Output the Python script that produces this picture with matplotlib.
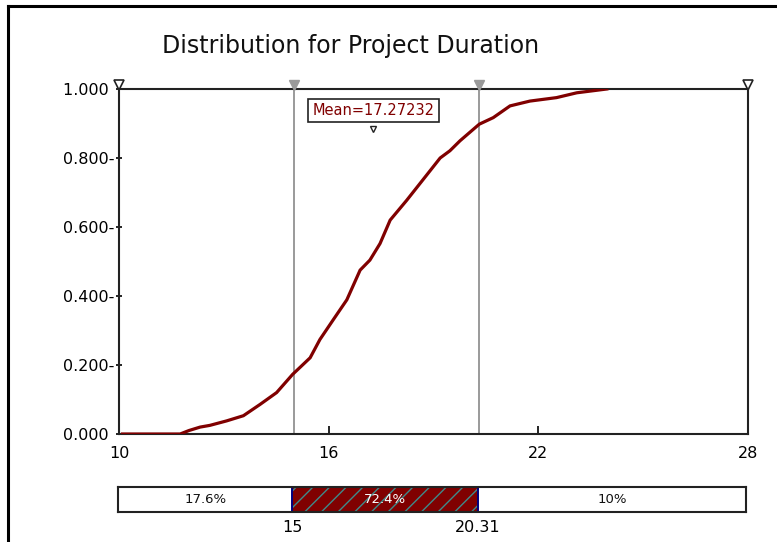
import matplotlib
matplotlib.use("Agg")
import matplotlib.pyplot as plt
import matplotlib.transforms as mtransforms
from matplotlib.lines import Line2D

# cumulative distribution
cdf_x = [10.1, 11.75, 12.0, 12.32, 12.6, 13.08, 13.56, 14.04, 14.51, 14.97, 15.2,
         15.47, 15.75, 16.13, 16.52, 16.9, 17.18, 17.47, 17.76, 18.23, 18.8,
         19.19, 19.47, 19.76, 20.31, 20.71, 21.19, 21.76, 22.52, 23.1, 23.96]
cdf_y = [0.0, 0.0, 0.01, 0.02, 0.025, 0.038, 0.053, 0.086, 0.12, 0.173, 0.195,
         0.221, 0.274, 0.331, 0.389, 0.475, 0.504, 0.552, 0.62, 0.677, 0.75,
         0.80, 0.821, 0.85, 0.898, 0.917, 0.951, 0.965, 0.975, 0.989, 1.0]

mean_value = 17.27232
mean_marker_y = 0.885
slider_lo, slider_hi = 15, 20.31
x_min, x_max = 10, 28

x_ticks = [10, 16, 22, 28]
y_ticks = [0.0, 0.2, 0.4, 0.6, 0.8, 1.0]
y_tick_labels = ["0.000 ", "0.200-", "0.400-", "0.600-", "0.800-", "1.000 "]

band_left = [10, 15, 20.31]
band_width = [5, 5.31, 7.69]
band_pct = [17.6, 72.4, 10]

DARKRED = "#800000"
GRAY = "#9a9a9a"

plt.rcParams["font.family"] = ["DejaVu Sans"]

fig = plt.figure(figsize=(7.77, 5.42), dpi=100)
fig.patch.set_facecolor("white")

# main axes
ax = fig.add_axes([119 / 777, 1 - 434 / 542, (748 - 119) / 777, (434 - 89) / 542])
ax.plot(cdf_x, cdf_y, color=DARKRED, lw=2.3, solid_joinstyle="miter", zorder=3)
ax.axvline(slider_lo, color=GRAY, lw=1.4, zorder=2)
ax.axvline(slider_hi, color=GRAY, lw=1.4, zorder=2)

ax.set_xlim(x_min, x_max)
ax.set_ylim(0, 1)
ax.set_xticks(x_ticks)
ax.set_xticklabels([str(t) for t in x_ticks])
ax.set_yticks(y_ticks)
ax.set_yticklabels(y_tick_labels)
ax.tick_params(axis="x", direction="in", length=6, width=1.2, labelsize=11.5, pad=9)
ax.tick_params(axis="y", direction="inout", length=5, width=1.2, labelsize=11.5, pad=1)
for s in ax.spines.values():
    s.set_linewidth(1.5)
    s.set_color("#222222")

# slider triangles above the top line
up = mtransforms.offset_copy(ax.transData, fig=fig, x=0, y=4.5, units="dots")
ax.plot([slider_lo, slider_hi], [1, 1], "v", ms=7, color=GRAY, mec=GRAY,
        transform=up, clip_on=False, zorder=4)
ax.plot([x_min, x_max], [1, 1], "v", ms=7, mfc="white", mec="#222222", mew=1.2,
        transform=up, clip_on=False, zorder=4)

# mean marker and label
ax.plot([mean_value], [mean_marker_y], "v", ms=5, mfc="white", mec="#222222",
        mew=1.0, zorder=4)
ax.annotate(f"Mean={mean_value:.5f}", xy=(mean_value, mean_marker_y),
            xytext=(0, 13), textcoords="offset points", ha="center", va="center",
            color=DARKRED, fontsize=10.5,
            bbox=dict(boxstyle="square,pad=0.3", fc="white", ec="#222222", lw=1.2),
            zorder=5)

fig.text(351 / 777, 1 - 46 / 542, "Distribution for Project Duration",
         ha="center", va="center", fontsize=17, color="#111111")

# percentage band below
bx = fig.add_axes([118 / 777, 1 - 512 / 542, (746 - 118) / 777, 25 / 542])
bx.set_xlim(x_min, x_max)
bx.set_ylim(0, 1)
face = ["white", DARKRED, "white"]
bx.barh([0.5] * 3, band_width, left=band_left, height=1, color=face,
        edgecolor=["none", "#3f8a8a", "none"], hatch=[None, "//", None], lw=0)
# outline: black box, navy dividers at the slider positions
for s in bx.spines.values():
    s.set_linewidth(1.5)
    s.set_color("#222222")
for v in (slider_lo, slider_hi):
    bx.axvline(v, color="#000080", lw=1.4)
for l, w, p in zip(band_left, band_width, band_pct):
    bx.text(l + w / 2, 0.5, f"{p:g}%", ha="center", va="center", fontsize=9.5,
            color="white" if p == band_pct[1] else "#111111")
bx.set_yticks([])
bx.set_xticks([slider_lo, slider_hi])
bx.set_xticklabels([f"{slider_lo:g}", f"{slider_hi:g}"])
bx.tick_params(axis="x", length=0, labelsize=11.5, pad=6)

# outer frame (left and top edges)
fig.add_artist(Line2D([8 / 777, 8 / 777], [0, 1 - 6 / 542], transform=fig.transFigure,
                      color="black", lw=2.2))
fig.add_artist(Line2D([8 / 777, 1], [1 - 6 / 542, 1 - 6 / 542], transform=fig.transFigure,
                      color="black", lw=2.2))

fig.savefig("out.png", dpi=100, facecolor="white")
